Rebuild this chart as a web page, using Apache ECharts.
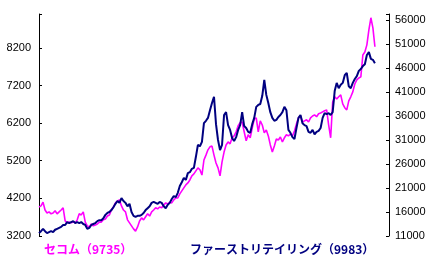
<!DOCTYPE html>
<html>
<head>
<meta charset="utf-8">
<script src="https://cdn.jsdelivr.net/npm/echarts@6/dist/echarts.min.js"></script>
<style>
html,body{margin:0;padding:0;background:#fff;}
#c{width:433px;height:266px;}
</style>
</head>
<body>
<div id="c"></div>
<script>
// Secom (9735) - left axis
const secom = [3970,4000,4100,3890,3810,3840,3790,3810,3870,3790,3840,3890,3950,3600,3550,3570,3550,3570,3550,3630,
3790,3760,3840,3570,3470,3440,3520,3470,3490,3520,3570,3570,3630,3650,3730,3760,3890,3970,4080,4130,
4160,4000,3890,3840,3630,3550,3470,3390,3330,3440,3600,3680,3630,3710,3790,3730,3840,3890,3950,3920,
3970,3950,4020,4080,4050,4100,4080,4160,4210,4210,4320,4400,4480,4560,4610,4690,4800,4850,4930,5010,
4960,4820,5220,5350,5490,5570,5590,5350,5140,5010,4800,5170,5430,5620,5700,5650,5810,5860,5970,6130,
6210,6230,5970,5730,5890,5810,6070,6310,6340,5970,6260,6150,5940,6020,5860,5620,5430,5590,5780,5750,
5830,5700,5810,5890,5860,5910,5860,5990,6180,6340,6390,6230,6260,6290,6230,6340,6390,6420,6370,6450,
6470,6500,6530,6550,6150,5810,6760,6900,6840,6900,6950,6710,6610,6550,6790,6900,7030,7240,7350,7400,
7430,8010,8090,8280,8680,9000,8730,8230];
// Fast Retailing (9983) - right axis
const fastRetailing = [11600,12000,12500,12000,11600,11800,12000,11800,12300,12500,12700,12900,13300,13300,13900,13700,13900,14100,13700,13900,
13700,13900,13500,13300,12500,12700,13300,13500,13700,14100,14300,14300,14700,15400,15800,16000,16400,17000,17700,18300,
17900,18900,18300,17900,17200,17700,16000,15200,15000,15200,15200,15400,15800,16400,16800,17200,17900,18100,17900,17700,
18100,17900,17200,16800,17500,17900,18700,19300,19100,20000,21400,22200,23100,22700,24100,24300,25000,25200,27500,30000,
29700,30600,34500,35000,35600,37200,38700,40000,34300,31000,28900,30000,36200,36800,34100,33100,31400,30800,31600,33100,
34100,36800,33900,33500,32700,32500,34300,35600,37900,38300,38500,40200,43500,40400,38700,36800,35600,35000,35200,35800,
36200,36800,37900,37200,33100,32500,31600,31200,33500,35600,36200,34500,34100,33900,32700,32500,33100,32200,32700,32900,
33500,35600,36600,36400,36600,36200,36800,41200,42900,41800,42500,42900,44500,45000,42200,41800,42900,43700,44300,45400,
45800,46400,46800,48700,49300,47900,47700,47000];
const leftTicks = [3200,4200,5200,6200,7200,8200];
const rightTicks = [11000,16000,21000,26000,31000,36000,41000,46000,51000,56000];
const labelSecom = 'セコム（9735）';
const labelFR = 'ファーストリテイリング（9983）';
const nCats = 175;
const categories = Array.from({length: nCats}, (_, i) => String(i + 1));

const chart = echarts.init(document.getElementById('c'), null, {renderer: 'canvas'});
const tickFmt = list => v => list.indexOf(Math.round(v)) >= 0 ? String(Math.round(v)) : '';
chart.setOption({
  animation: false,
  backgroundColor: '#ffffff',
  grid: {left: 39, right: 44, top: 14, bottom: 30},
  xAxis: {type: 'category', data: categories, boundaryGap: false, show: false},
  yAxis: [
    {type: 'value', position: 'left', min: 3200, max: 9100, interval: 1000,
     axisLine: {show: true, lineStyle: {color: '#000', width: 1}},
     axisTick: {show: true, inside: true, length: 3, lineStyle: {color: '#000'}},
     axisLabel: {color: '#000', fontSize: 11, fontFamily: 'Liberation Sans', margin: 8,
                 formatter: tickFmt(leftTicks)},
     splitLine: {show: false}},
    {type: 'value', position: 'right', min: 11000, max: 57250, interval: 5000,
     axisLine: {show: true, lineStyle: {color: '#000', width: 1}},
     axisTick: {show: true, inside: true, length: 3, lineStyle: {color: '#000'}},
     axisLabel: {color: '#000', fontSize: 11, fontFamily: 'Liberation Sans', margin: 6,
                 formatter: tickFmt(rightTicks)},
     splitLine: {show: false}}
  ],
  series: [
    {name: labelSecom, type: 'line', yAxisIndex: 0, data: secom, showSymbol: false,
     lineStyle: {color: '#ff00ff', width: 1.6}, itemStyle: {color: '#ff00ff'}},
    {name: labelFR, type: 'line', yAxisIndex: 1, data: fastRetailing, showSymbol: false,
     lineStyle: {color: '#000080', width: 2}, itemStyle: {color: '#000080'}}
  ],
  graphic: [
    {type: 'text', left: 44, top: 243,
     style: {text: labelSecom, fill: '#ff00ff', font: 'bold 12px "Noto Sans CJK JP"'}},
    {type: 'text', left: 190, top: 243,
     style: {text: labelFR, fill: '#000080', font: 'bold 12px "Noto Sans CJK JP"'}}
  ]
});
</script>
</body>
</html>
